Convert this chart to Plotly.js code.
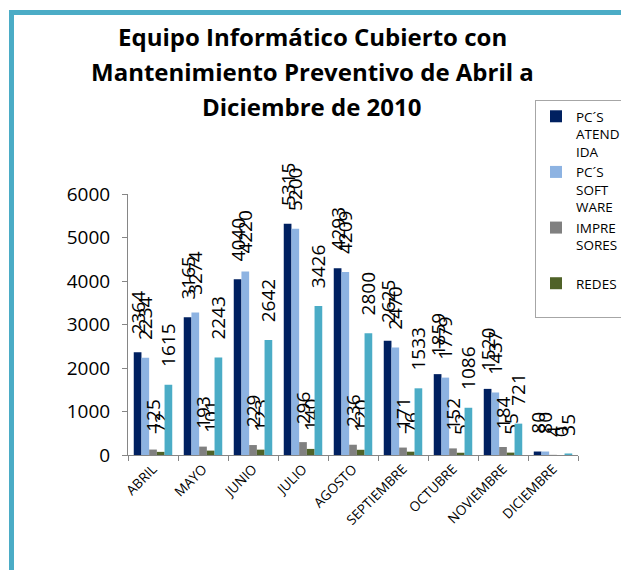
<!DOCTYPE html>
<html>
<head>
<meta charset="utf-8">
<script src="https://cdn.plot.ly/plotly-3.0.1.min.js"></script>
<style>
  html, body { margin: 0; padding: 0; background: #fff; overflow: hidden; width: 621px; height: 570px; }
  #chart { position: absolute; left: 0; top: 0; width: 700px; height: 570px; }
  #frame { position: absolute; left: 9px; top: 10px; width: 700px; height: 700px;
           border: 5px solid #4bacc6; pointer-events: none; box-sizing: border-box; }
</style>
</head>
<body>
<div id="chart"></div>
<div id="frame"></div>
<script>
const categories = ["ABRIL", "MAYO", "JUNIO", "JULIO", "AGOSTO", "SEPTIEMBRE", "OCTUBRE", "NOVIEMBRE", "DICIEMBRE"];
const seriesNames = ["PC´S<br>ATEND<br>IDA", "PC´S<br>SOFT<br>WARE", "IMPRE<br>SORES<br> ", "REDES<br> ", "TOTAL"];
const pcsAtendida = [2364, 3165, 4040, 5315, 4293, 2625, 1859, 1520, 80];
const pcsSoftware = [2234, 3274, 4220, 5200, 4209, 2470, 1779, 1437, 80];
const impresores  = [125, 193, 229, 296, 236, 171, 152, 184, 4];
const redes       = [72, 101, 123, 140, 120, 76, 52, 55, 0];
const quinta      = [1615, 2243, 2642, 3426, 2800, 1533, 1086, 721, 35];
const titleLines = ["Equipo Informático Cubierto con", "Mantenimiento Preventivo de Abril a", "Diciembre de 2010"];
const yTicks = [0, 1000, 2000, 3000, 4000, 5000, 6000];

const colors = ["#002060", "#8db3e2", "#808080", "#4f6228", "#4bacc6"];
const allSeries = [pcsAtendida, pcsSoftware, impresores, redes, quinta];
const FONT = "Open Sans, Lato, sans-serif";
const PAD = "\u00a0\u00a0\u00a0";

const traces = allSeries.map((vals, i) => ({
  type: "bar",
  name: seriesNames[i],
  x: categories,
  y: vals,
  marker: { color: colors[i], line: { width: 0 } },
  text: vals.map(v => PAD + String(v)),
  textposition: "outside",
  textangle: -90,
  constraintext: "none",
  cliponaxis: false,
  textfont: { family: FONT, size: 19, color: "#000" },
  showlegend: i < 4,
  hoverinfo: "x+y"
}));

const annotations = titleLines.map((t, i) => ({
  text: "<b>" + t + "</b>",
  xref: "paper", yref: "paper",
  x: (312 - 128) / 450,
  y: (455 - (36 + i * 35)) / 261,
  xanchor: "center", yanchor: "middle",
  showarrow: false,
  font: { family: FONT, size: 24, color: "#000" }
}));

const layout = {
  width: 700, height: 570,
  margin: { l: 128, r: 122, t: 194, b: 115 },
  paper_bgcolor: "#fff",
  plot_bgcolor: "#fff",
  barmode: "group",
  bargap: 0.23,
  bargroupgap: 0,
  showlegend: true,
  legend: {
    x: (535 - 128) / 450, xanchor: "left",
    y: (455 - 100) / 261, yanchor: "top",
    bordercolor: "#a6a6a6", borderwidth: 1, bgcolor: "#fff",
    font: { family: FONT, size: 13.5, color: "#000" },
    tracegroupgap: 3,
    itemwidth: 30,
    valign: "top"
  },
  xaxis: {
    type: "category",
    showline: true, linecolor: "#868686", linewidth: 1,
    ticks: "outside", ticklen: 5, tickcolor: "#868686",
    tickson: "boundaries",
    tickangle: -45,
    tickfont: { family: FONT, size: 13.5, color: "#000" },
    showgrid: false, zeroline: false
  },
  yaxis: {
    range: [0, 6000],
    tickvals: yTicks,
    ticktext: yTicks.map(String),
    showline: true, linecolor: "#868686", linewidth: 1,
    ticks: "outside", ticklen: 5, tickcolor: "#868686",
    ticklabelstandoff: 8,
    tickfont: { family: FONT, size: 19, color: "#000" },
    showgrid: false, zeroline: false
  },
  annotations: annotations
};

Plotly.newPlot("chart", traces, layout, { displayModeBar: false, staticPlot: true });
</script>
</body>
</html>
